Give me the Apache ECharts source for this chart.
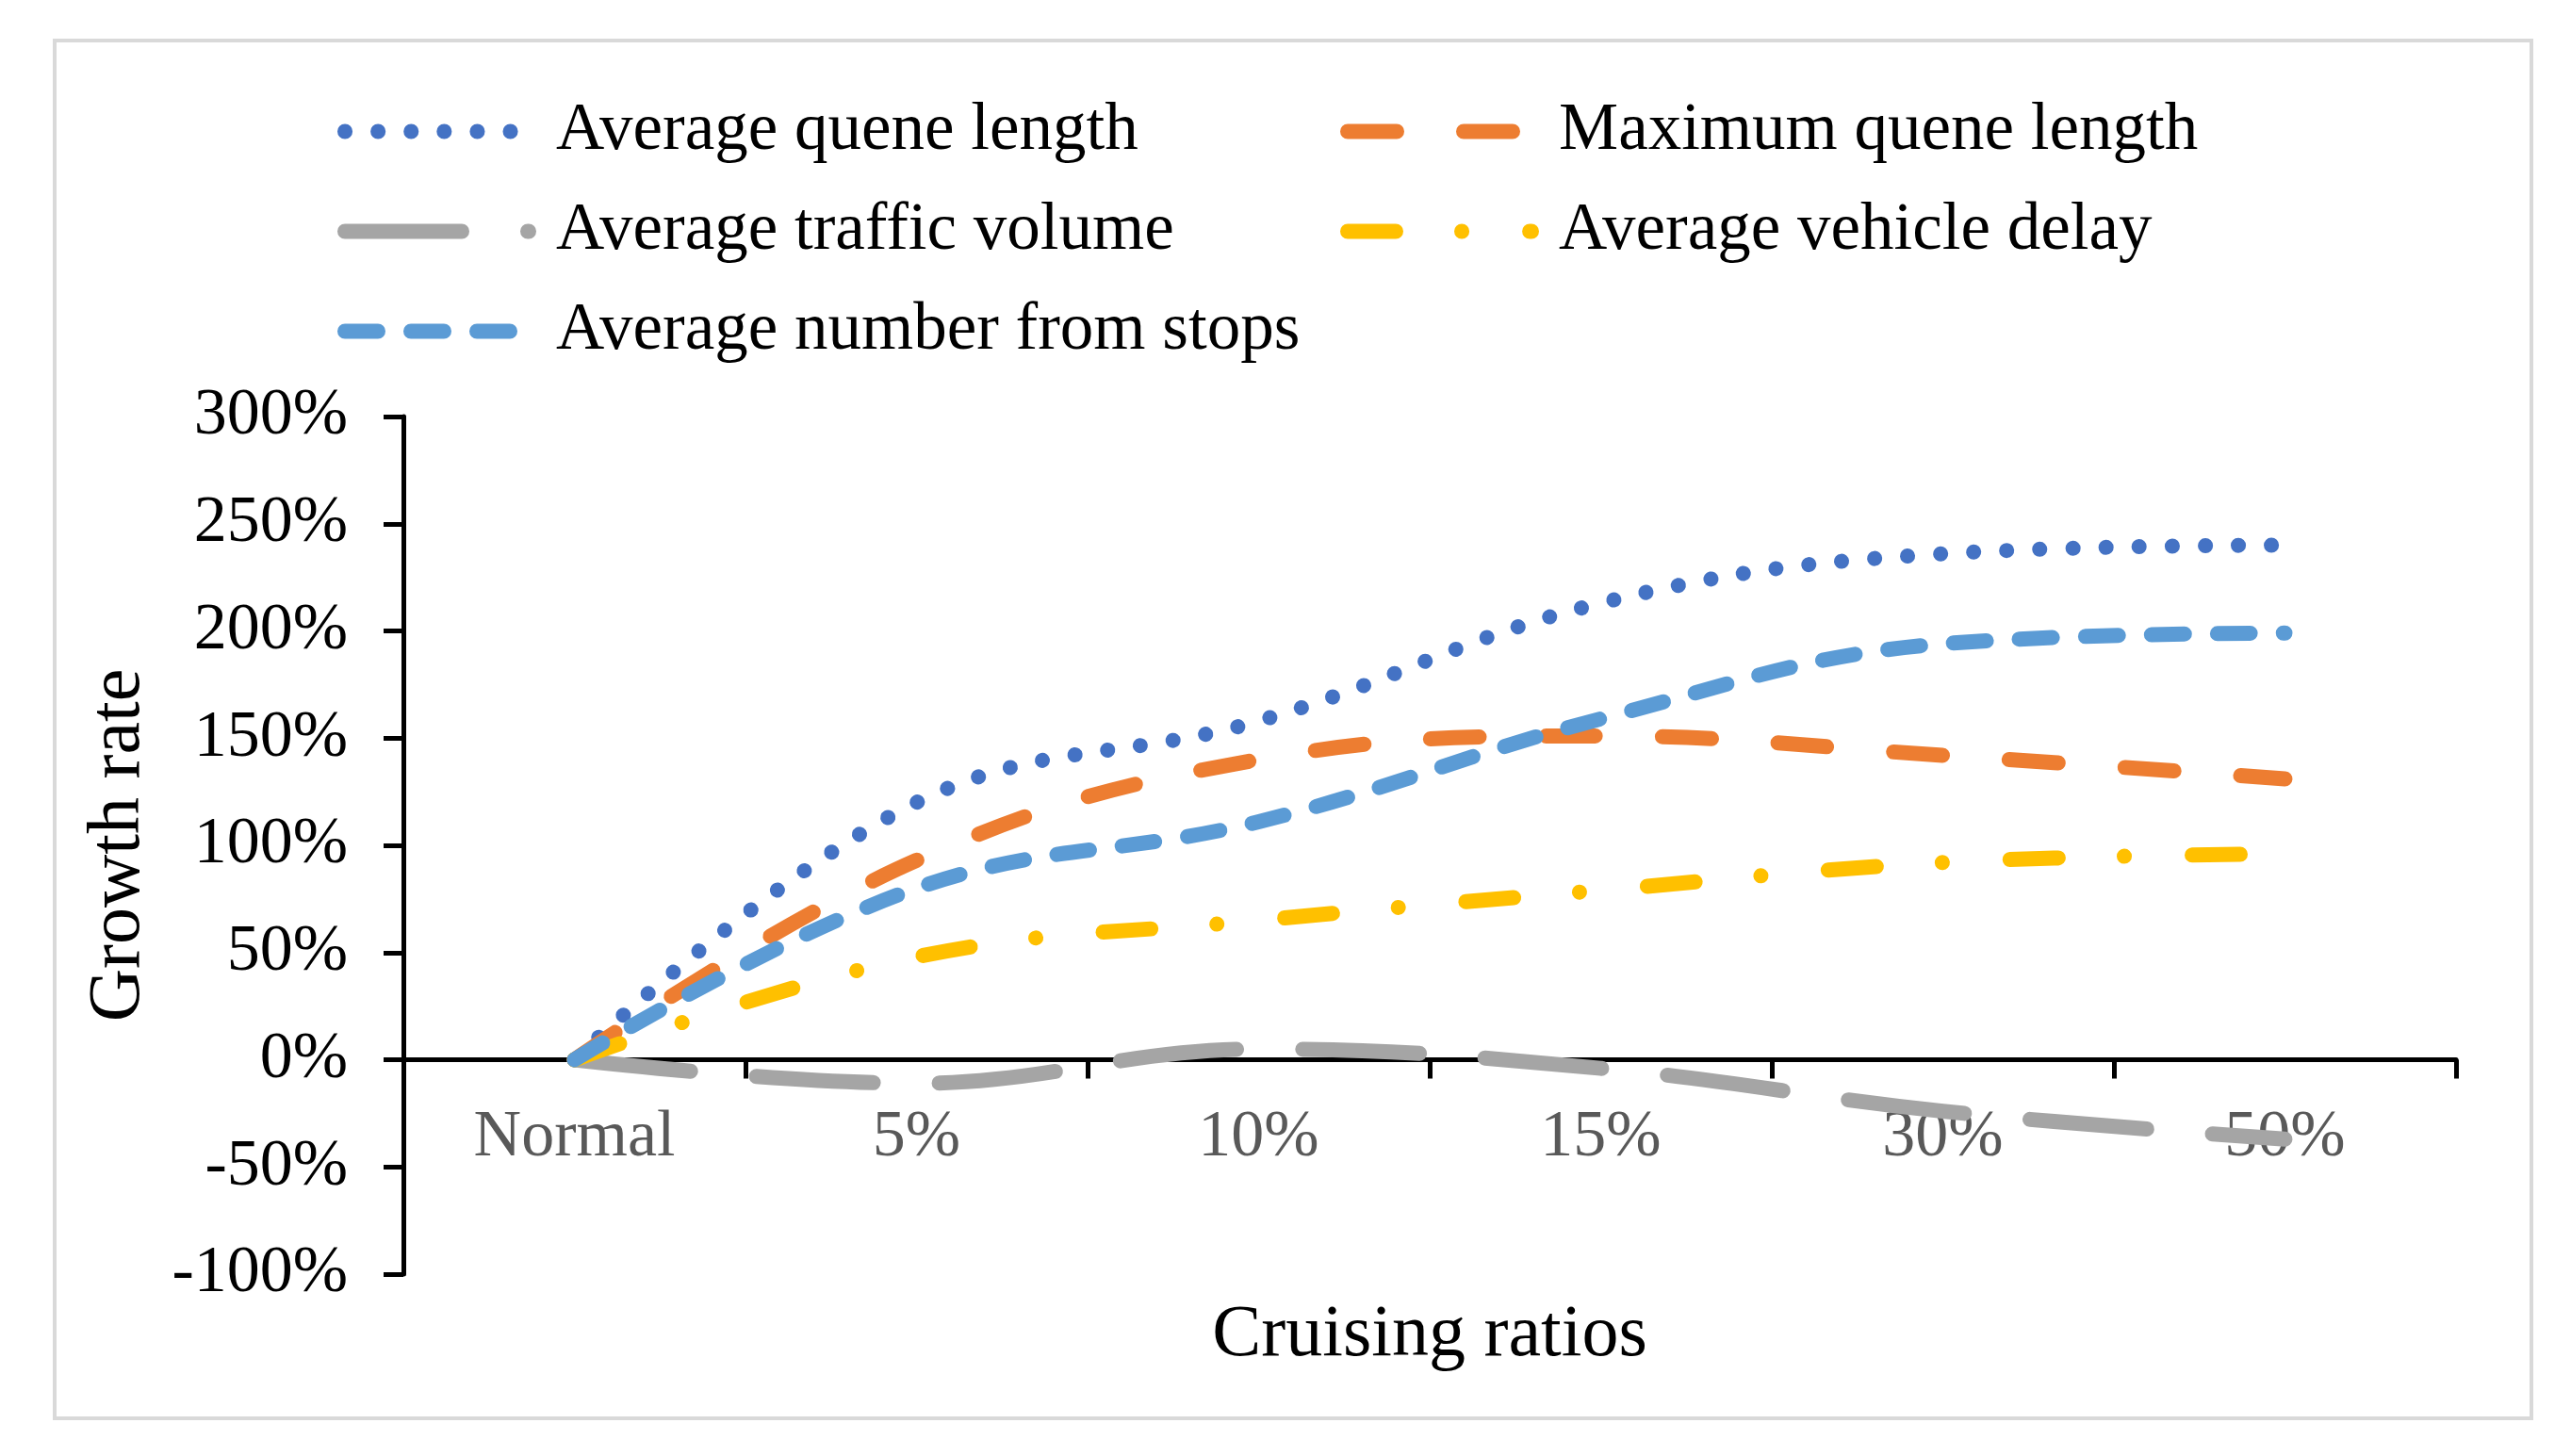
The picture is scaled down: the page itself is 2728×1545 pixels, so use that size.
<!DOCTYPE html>
<html><head><meta charset="utf-8">
<script src="https://cdn.jsdelivr.net/npm/echarts@6/dist/echarts.min.js"></script>
<style>html,body{margin:0;padding:0;background:#fff}#c{width:2728px;height:1545px}</style>
</head><body><div id="c"></div>
<script>
const categories = ['Normal', '5%', '10%', '15%', '30%', '50%'];
const avgQueueLength = [0, 120, 158, 213, 236, 240];
const maxQueueLength = [0, 93, 140, 151, 142, 131];
const avgTrafficVolume = [0, -11, 5, -4, -24, -37];
const avgVehicleDelay = [0, 48, 65, 79, 92, 96];
const avgStops = [0, 80, 111, 159, 194, 199];
const yMin = -100, yMax = 300, yInterval = 50;

const FONT = 'Liberation Serif';
const LW = 16;
const GRID = { left: 428, right: 122, top: 442, bottom: 193 };

function mk(name, data, color, dash) {
  return {
    name, type: 'line', data, symbol: 'none', smooth: 0.4,
    lineStyle: { color, width: LW, type: dash, cap: 'round', join: 'round' },
    itemStyle: { color }
  };
}

const series = [
  mk('Average quene length', avgQueueLength, '#4472C4', [0.1, 35]),
  mk('Maximum quene length', maxQueueLength, '#ED7D31', [52, 71]),
  mk('Average traffic volume', avgTrafficVolume, '#A5A5A5', [124, 70]),
  mk('Average vehicle delay', avgVehicleDelay, '#FFC000', [51, 70, 0.1, 72]),
  mk('Average number from stops', avgStops, '#5B9BD5', [35, 35])
];

const legendBase = {
  orient: 'vertical', top: 104, padding: 0, itemWidth: 195, itemHeight: 71, itemGap: 35,
  selectedMode: false,
  textStyle: { fontSize: 71, fontFamily: FONT, color: '#000', lineHeight: 71, padding: [0, 0, 0, 24] },
  lineStyle: { width: LW },
  itemStyle: { opacity: 0, borderWidth: 0 }
};

// distance of the zero line above the grid bottom, from the axis scale
const plotH = 1545 - GRID.top - GRID.bottom;
const zeroOffset = plotH * (0 - yMin) / (yMax - yMin);

const chart = echarts.init(document.getElementById('c'));
chart.setOption({
  animation: false,
  backgroundColor: '#fff',
  graphic: [{
    type: 'rect', shape: { x: 58, y: 43, width: 2628, height: 1462 },
    style: { fill: 'none', stroke: '#D9D9D9', lineWidth: 4 }, z: -1
  }],
  legend: [
    Object.assign({}, legendBase, { left: 358, data: ['Average quene length', 'Average traffic volume', 'Average number from stops'] }),
    Object.assign({}, legendBase, { left: 1422, data: ['Maximum quene length', 'Average vehicle delay'] })
  ],
  grid: Object.assign({ containLabel: false, outerBoundsMode: 'none' }, GRID),
  xAxis: {
    type: 'category', data: categories, boundaryGap: true,
    offset: -zeroOffset,
    axisLine: { show: true, onZero: false, lineStyle: { color: '#000', width: 5 } },
    axisTick: { show: true, length: 20, lineStyle: { color: '#000', width: 5 } },
    axisLabel: { color: '#595959', fontSize: 70, fontFamily: FONT, margin: 48 },
    splitLine: { show: false },
    name: 'Cruising ratios', nameLocation: 'middle', nameGap: 254,
    nameTextStyle: { fontSize: 78, fontFamily: FONT, color: '#000' }
  },
  yAxis: {
    type: 'value', min: yMin, max: yMax, interval: yInterval,
    axisLine: { show: true, lineStyle: { color: '#000', width: 5 } },
    axisTick: { show: true, length: 21, lineStyle: { color: '#000', width: 5 } },
    axisLabel: { color: '#000', fontSize: 70, fontFamily: FONT, margin: 59, formatter: '{value}%' },
    splitLine: { show: false },
    name: 'Growth rate', nameLocation: 'middle', nameGap: 262,
    nameTextStyle: { fontSize: 78, fontFamily: FONT, color: '#000' }
  },
  series
});
</script></body></html>
